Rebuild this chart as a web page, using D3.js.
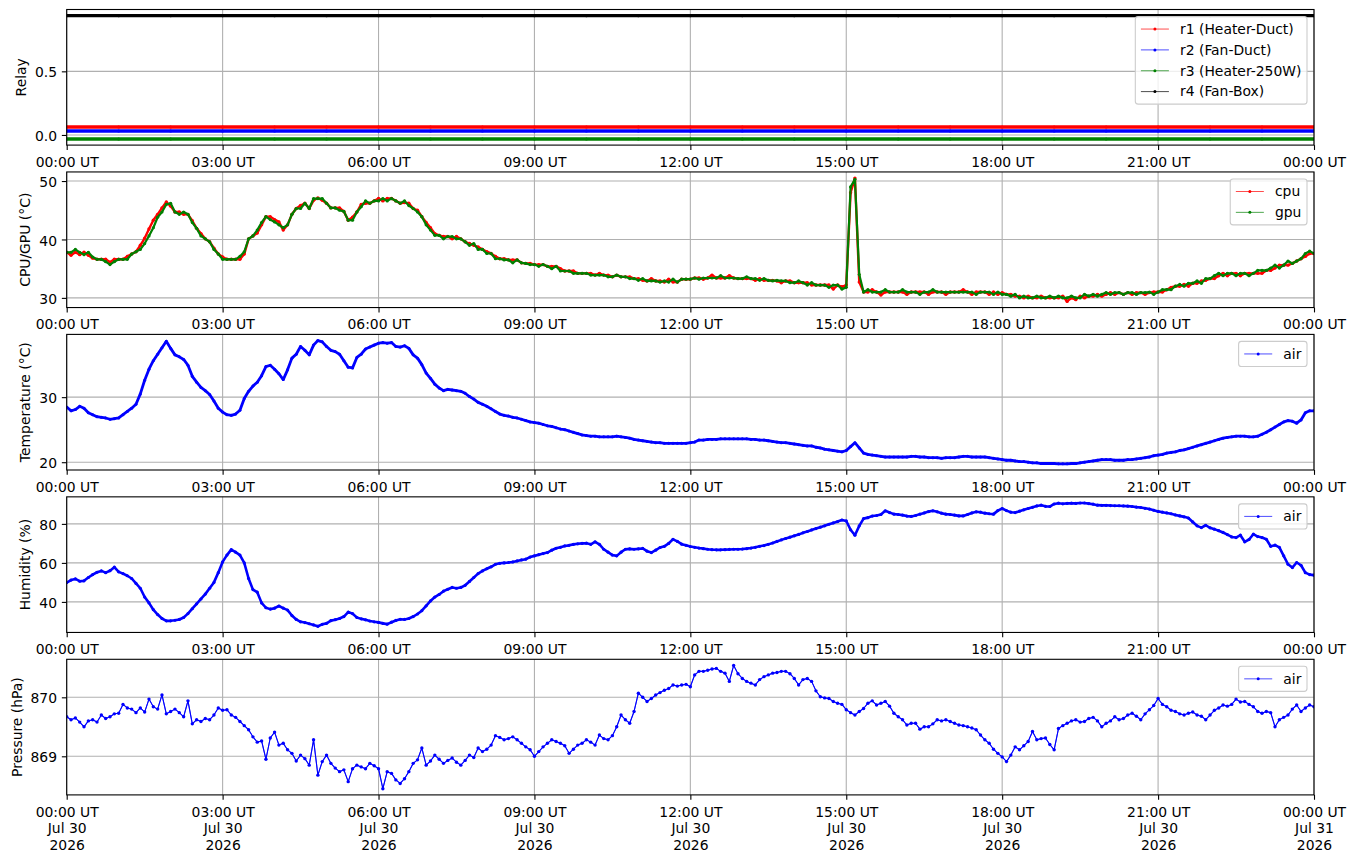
<!DOCTYPE html>
<html>
<head>
<meta charset="utf-8">
<script src="https://cdn.jsdelivr.net/npm/d3@7"></script>
<style>
  body { margin: 0; background: #fff; }
  svg { display: block; font-family: "DejaVu Sans", sans-serif; }
</style>
</head>
<body>
<svg id="chart" width="1355" height="861"></svg>
<script>
// sampling of the logged data
const startTime = "2026-07-30T00:00:00Z";
const endTime = "2026-07-31T00:00:00Z";
const stepMinutes = 5;        // sensor series
const relayStepMinutes = 60;  // relay states (constant all day)

// relay state, offset so the four lines do not overlap
const relay1 = [0.0625,0.0625,0.0625,0.0625,0.0625,0.0625,0.0625,0.0625,0.0625,0.0625,0.0625,0.0625,0.0625,
  0.0625,0.0625,0.0625,0.0625,0.0625,0.0625,0.0625,0.0625,0.0625,0.0625,0.0625,0.0625];
const relay2 = [0.03125,0.03125,0.03125,0.03125,0.03125,0.03125,0.03125,0.03125,0.03125,0.03125,0.03125,0.03125,0.03125,
  0.03125,0.03125,0.03125,0.03125,0.03125,0.03125,0.03125,0.03125,0.03125,0.03125,0.03125,0.03125];
const relay3 = [-0.03125,-0.03125,-0.03125,-0.03125,-0.03125,-0.03125,-0.03125,-0.03125,-0.03125,-0.03125,-0.03125,-0.03125,-0.03125,
  -0.03125,-0.03125,-0.03125,-0.03125,-0.03125,-0.03125,-0.03125,-0.03125,-0.03125,-0.03125,-0.03125,-0.03125];
const relay4 = [0.9375,0.9375,0.9375,0.9375,0.9375,0.9375,0.9375,0.9375,0.9375,0.9375,0.9375,0.9375,0.9375,
  0.9375,0.9375,0.9375,0.9375,0.9375,0.9375,0.9375,0.9375,0.9375,0.9375,0.9375,0.9375];

// CPU / GPU temperature (°C), one row per hour
const cpuTemp = [
  37.8,37.3,37.8,37.4,37.8,37.3,36.8,36.6,36.6,36.6,36.1,36.6,
  36.6,36.6,37.1,37.5,37.9,39.0,40.2,41.8,43.3,44.3,45.4,46.4,
  45.7,44.7,44.7,44.3,44.3,43.2,41.9,41.0,40.1,39.6,38.5,37.5,
  37.0,36.6,36.6,36.6,36.6,37.5,40.1,40.6,41.1,42.5,43.9,43.9,
  43.4,43.0,41.6,42.5,44.3,45.3,45.8,46.2,45.3,46.7,47.1,46.7,
  46.2,45.4,45.4,45.4,44.8,43.3,43.8,44.7,46.0,46.2,46.2,46.6,
  47.0,46.6,47.0,47.0,46.6,46.2,46.3,46.2,45.3,45.0,43.9,42.9,
  42.0,41.0,40.7,40.5,40.5,40.1,40.5,40.1,39.6,39.3,39.0,38.7,
  38.3,37.9,37.6,37.1,36.7,36.7,36.5,36.5,36.5,36.0,35.9,35.9,
  35.7,35.7,35.7,35.4,35.4,35.4,35.0,34.6,34.6,34.6,34.2,34.2,
  34.2,34.2,33.9,34.2,33.9,33.9,33.6,33.9,33.6,33.6,33.6,33.3,
  33.3,33.0,32.9,33.3,32.9,32.9,32.7,33.2,32.7,32.7,33.2,33.2,
  33.2,33.4,33.4,33.2,33.4,33.9,33.4,33.4,33.4,33.8,33.4,33.3,
  33.3,33.3,33.3,33.0,33.3,33.0,33.0,33.0,32.9,32.6,32.9,32.9,
  32.6,32.6,32.6,32.6,32.2,32.2,32.2,32.2,32.2,31.5,32.2,31.9,
  32.2,48.0,50.5,32.7,31.0,31.0,31.4,31.0,30.5,31.0,31.0,31.0,
  31.0,31.0,30.6,31.0,31.0,31.0,31.0,30.6,31.0,31.0,31.0,30.6,
  31.0,31.0,31.0,31.4,31.0,30.6,31.0,31.0,31.0,30.6,31.0,30.6,
  30.9,30.6,30.6,30.3,30.3,30.0,30.3,30.0,30.0,30.3,30.0,30.0,
  30.0,30.0,30.3,29.4,30.0,29.7,30.3,30.0,30.3,30.3,30.6,30.3,
  30.6,30.9,30.6,30.9,30.6,30.9,30.6,30.9,30.9,30.6,30.9,31.0,
  31.0,31.0,31.4,31.8,32.0,32.0,32.3,32.0,32.5,32.5,32.9,33.0,
  33.3,33.3,33.8,34.2,33.8,34.2,34.2,33.8,34.2,34.2,34.2,34.2,
  34.2,34.7,34.7,35.1,35.6,35.6,35.6,35.9,36.3,36.7,37.1,37.6,
  37.6];
const gpuTemp = [
  37.8,37.8,38.3,37.8,37.4,37.8,37.0,36.6,36.6,36.2,35.7,36.2,
  36.6,36.6,36.6,37.5,37.9,38.3,39.3,40.6,42.0,43.8,44.7,46.0,
  46.2,44.7,44.3,44.7,44.3,42.9,41.9,40.6,40.1,39.6,38.3,37.5,
  36.6,36.6,36.6,36.6,37.1,37.9,40.1,40.6,41.6,42.9,43.9,43.4,
  43.0,42.5,42.0,42.5,44.3,45.3,45.3,46.2,45.3,47.0,47.0,47.0,
  46.2,45.4,45.4,45.0,44.8,43.3,43.3,44.7,45.6,46.6,46.2,46.6,
  46.6,47.0,46.6,47.0,46.6,46.2,46.6,45.8,45.3,44.7,43.9,42.5,
  41.6,40.7,40.7,40.1,40.5,40.5,40.1,40.1,39.6,39.0,39.3,38.3,
  38.3,37.6,37.6,36.7,36.7,36.5,36.5,36.0,36.5,36.0,35.9,35.7,
  35.7,35.4,35.7,35.4,35.0,35.4,34.6,34.6,34.6,34.2,34.2,34.2,
  34.2,33.9,33.9,33.9,33.9,33.6,33.6,33.9,33.6,33.6,33.3,33.3,
  33.0,33.3,32.9,32.9,32.9,32.7,32.9,32.7,33.2,32.7,33.2,33.2,
  33.2,33.4,33.2,33.4,33.4,33.4,33.4,33.8,33.4,33.4,33.4,33.3,
  33.3,33.6,33.3,33.3,33.0,33.3,33.0,32.9,33.0,32.9,32.9,32.6,
  32.6,32.9,32.6,32.2,32.6,32.2,32.2,32.2,31.8,32.2,32.2,31.5,
  31.8,49.0,50.3,34.0,31.0,31.4,31.0,31.0,31.0,31.4,31.0,31.0,
  31.0,31.4,31.0,31.0,31.0,30.6,31.0,31.0,31.4,31.0,31.0,31.0,
  31.0,31.0,31.0,31.0,31.0,31.0,30.6,31.0,31.0,31.0,30.6,31.0,
  30.6,30.6,30.3,30.6,30.0,30.3,30.0,30.0,30.3,30.0,30.0,30.3,
  30.0,30.3,30.0,30.0,30.3,30.0,30.0,30.6,30.3,30.6,30.3,30.6,
  30.9,30.6,30.9,30.9,30.6,30.9,30.9,30.6,30.9,30.9,31.0,30.6,
  31.0,31.4,31.4,31.4,32.0,32.3,32.0,32.5,32.5,32.9,32.5,33.3,
  33.3,33.8,34.2,33.8,34.2,34.2,33.8,34.2,34.2,33.8,34.2,34.7,
  34.7,34.7,35.1,35.6,35.1,35.6,36.3,35.9,36.3,36.7,37.6,38.0,
  37.6];

// air temperature (°C)
const airTemp = [
  28.5,27.9,28.1,28.6,28.3,27.6,27.3,27.0,26.9,26.8,26.6,26.7,
  26.8,27.3,27.8,28.3,28.9,30.5,32.6,34.3,35.6,36.6,37.6,38.6,
  37.5,36.5,36.2,35.8,34.9,33.2,32.3,31.5,31.0,30.4,29.4,28.3,
  27.7,27.3,27.2,27.4,28.0,29.8,30.9,31.7,32.3,33.3,34.7,34.9,
  34.3,33.6,32.7,34.2,36.0,36.6,37.8,37.2,36.5,38.0,38.7,38.5,
  37.8,37.2,37.0,36.6,35.6,34.6,34.5,36.1,36.6,37.4,37.7,38.0,
  38.3,38.4,38.3,38.4,37.8,37.7,37.9,37.5,36.5,36.0,35.0,33.7,
  32.9,32.0,31.4,31.0,31.2,31.1,31.0,30.9,30.6,30.1,29.7,29.2,
  28.9,28.6,28.2,27.8,27.4,27.2,27.1,26.9,26.8,26.6,26.4,26.2,
  26.1,26.0,25.8,25.6,25.5,25.3,25.1,25.0,24.8,24.6,24.4,24.2,
  24.1,24.0,24.0,23.9,23.9,23.9,23.9,24.0,23.9,23.8,23.7,23.5,
  23.4,23.3,23.2,23.1,23.0,23.0,22.9,22.9,22.9,22.9,22.9,22.9,
  23.0,23.1,23.4,23.4,23.5,23.5,23.5,23.6,23.6,23.6,23.6,23.6,
  23.6,23.6,23.5,23.5,23.4,23.4,23.3,23.2,23.1,23.0,23.0,22.9,
  22.8,22.7,22.6,22.5,22.5,22.3,22.2,22.0,21.9,21.8,21.7,21.6,
  21.8,22.4,23.0,22.2,21.4,21.2,21.1,21.0,20.9,20.8,20.8,20.8,
  20.8,20.8,20.8,20.9,20.9,20.8,20.8,20.7,20.7,20.7,20.6,20.7,
  20.7,20.7,20.8,20.9,20.9,20.8,20.8,20.8,20.8,20.7,20.6,20.5,
  20.4,20.3,20.3,20.2,20.1,20.1,20.0,19.9,19.9,19.8,19.8,19.8,
  19.8,19.75,19.75,19.75,19.8,19.8,19.9,20.0,20.1,20.2,20.3,20.4,
  20.4,20.4,20.3,20.3,20.3,20.4,20.4,20.5,20.6,20.7,20.8,21.0,
  21.1,21.2,21.4,21.5,21.6,21.8,21.9,22.1,22.3,22.5,22.7,22.9,
  23.1,23.3,23.5,23.7,23.8,23.9,24.0,24.0,24.0,23.9,23.9,24.0,
  24.3,24.6,25.0,25.4,25.8,26.2,26.4,26.3,26.0,26.5,27.6,27.9,
  27.9];

// relative humidity (%)
const airHumidity = [
  49.9,51.2,51.8,50.6,50.8,52.5,54.0,55.2,55.9,55.0,56.0,57.8,
  55.4,54.5,53.4,52.0,49.5,47.0,42.5,39.5,36.0,33.5,31.5,30.3,
  30.3,30.6,31.0,32.0,34.0,36.5,39.0,41.5,44.0,47.0,50.0,55.0,
  60.5,64.0,66.8,65.5,64.0,60.0,52.0,46.3,45.0,39.5,37.0,36.3,
  36.8,37.9,36.8,35.8,33.0,31.0,29.8,29.4,28.8,28.2,27.5,28.5,
  29.0,30.4,30.9,31.5,32.5,34.8,34.0,32.0,31.3,30.8,30.2,29.8,
  29.5,29.0,28.6,29.6,30.5,31.1,31.0,31.5,32.5,33.8,35.5,38.0,
  40.5,42.5,43.8,45.5,46.5,47.4,47.0,47.4,48.5,50.5,52.5,54.5,
  55.9,57.0,58.0,59.3,59.8,60.0,60.2,60.5,61.0,61.5,61.9,63.0,
  63.6,64.2,64.8,65.3,66.5,67.5,68.0,68.7,69.0,69.5,69.8,70.0,
  70.1,69.5,70.8,69.5,67.0,65.5,64.0,63.6,65.5,67.0,67.2,67.0,
  67.2,67.4,66.0,65.3,66.5,67.9,68.5,70.0,72.1,71.0,69.6,69.0,
  68.4,68.0,67.6,67.3,67.0,66.8,66.7,66.7,66.8,66.9,67.0,67.0,
  67.1,67.3,67.6,68.0,68.5,68.9,69.5,70.2,71.0,71.8,72.5,73.2,
  73.9,74.6,75.4,76.1,76.9,77.6,78.3,79.0,79.8,80.5,81.2,82.0,
  81.5,77.0,74.2,79.0,82.7,83.2,84.0,84.3,84.8,86.7,85.8,85.0,
  84.8,84.5,84.0,83.8,84.3,85.0,85.6,86.3,86.7,86.2,85.5,85.0,
  84.8,84.5,84.1,84.1,84.8,85.6,86.2,86.0,85.5,85.2,85.0,86.8,
  87.9,86.8,86.0,85.8,86.5,87.2,87.9,88.5,89.2,89.6,89.0,88.9,
  90.2,90.6,90.3,90.5,90.6,90.5,90.7,90.7,90.4,90.1,89.6,89.5,
  89.5,89.4,89.3,89.3,89.2,89.1,88.9,88.6,88.4,88.0,87.6,87.0,
  86.4,86.0,85.6,85.2,84.6,84.1,83.6,83.0,81.0,79.0,78.1,79.3,
  78.0,77.3,76.5,75.6,74.5,73.3,73.0,74.2,70.8,72.0,74.7,73.5,
  73.0,72.1,68.5,69.1,68.0,63.6,59.3,57.6,60.2,58.8,55.0,54.0,
  53.7];

// air pressure (hPa)
const airPressure = [
  869.67,869.62,869.65,869.58,869.50,869.60,869.62,869.58,869.70,869.64,869.67,869.72,
  869.73,869.88,869.82,869.80,869.74,869.82,869.75,869.97,869.84,869.80,870.04,869.72,
  869.76,869.80,869.74,869.67,869.94,869.55,869.62,869.59,869.64,869.62,869.70,869.82,
  869.78,869.79,869.70,869.66,869.59,869.52,869.45,869.33,869.24,869.26,868.95,869.31,
  869.41,869.19,869.22,869.11,869.05,868.92,869.02,868.96,868.85,869.28,868.68,868.91,
  869.02,868.88,868.80,868.74,868.77,868.57,868.79,868.85,868.82,868.79,868.88,868.84,
  868.79,868.45,868.74,868.71,868.60,868.54,868.62,868.74,868.88,868.94,869.14,868.85,
  868.92,869.02,868.95,868.88,868.93,868.97,868.90,868.85,868.93,869.02,868.98,869.14,
  869.08,869.12,869.19,869.35,869.32,869.28,869.30,869.33,869.28,869.22,869.16,869.11,
  869.00,869.08,869.16,869.22,869.28,869.25,869.22,869.18,869.05,869.12,869.19,869.22,
  869.28,869.24,869.19,869.36,869.30,869.28,869.35,869.50,869.70,869.62,869.56,869.76,
  870.07,870.00,869.93,869.98,870.04,870.08,870.12,870.15,870.21,870.19,870.21,870.22,
  870.18,870.38,870.44,870.44,870.46,870.48,870.49,870.44,870.41,870.27,870.54,870.40,
  870.32,870.27,870.24,870.21,870.30,870.35,870.38,870.41,870.42,870.44,870.44,870.40,
  870.32,870.21,870.30,870.32,870.27,870.11,870.01,869.99,869.98,869.93,869.90,869.88,
  869.79,869.74,869.70,869.76,869.81,869.90,869.94,869.87,869.90,869.93,869.85,869.73,
  869.67,869.62,869.53,869.56,869.56,869.46,869.50,869.50,869.55,869.62,869.60,869.62,
  869.59,869.56,869.53,869.52,869.50,869.48,869.45,869.36,869.28,869.22,869.12,869.05,
  868.99,868.91,869.02,869.16,869.11,869.18,869.25,869.42,869.28,869.30,869.31,869.20,
  869.11,869.47,869.52,869.56,869.60,869.62,869.58,869.59,869.64,869.66,869.60,869.50,
  869.56,869.60,869.67,869.62,869.64,869.70,869.73,869.68,869.62,869.72,869.79,869.86,
  869.98,869.88,869.84,869.78,869.76,869.72,869.70,869.73,869.75,869.70,869.68,869.62,
  869.70,869.78,869.82,869.87,869.85,869.88,869.97,869.92,869.93,869.88,869.84,869.76,
  869.73,869.76,869.74,869.50,869.62,869.66,869.70,869.80,869.87,869.76,869.82,869.87,
  869.84];

const yLabels = ["Relay", "CPU/GPU (°C)", "Temperature (°C)", "Humidity (%)", "Pressure (hPa)"];
const yTickValues = [[0, 0.5], [30, 40, 50], [20, 30], [40, 60, 80], [869, 870]];

// ---------------------------------------------------------------------------
const t0 = new Date(startTime), t1 = new Date(endTime);
const sampleTimes = n => (step) => d3.range(n).map(i => new Date(+t0 + i * step * 60000));
const times = sampleTimes(airTemp.length)(stepMinutes);
const relayTimes = sampleTimes(relay1.length)(relayStepMinutes);

// trail = width of the band the dense 1-min samples form in the original
const panels = [
  { fmt: d3.format(".1f"), series: [
    { label: "r1 (Heater-Duct)", t: relayTimes, v: relay1, color: "#ff0000", trail: 3.4, r: 1.5 },
    { label: "r2 (Fan-Duct)", t: relayTimes, v: relay2, color: "#0000ff", trail: 3.4, r: 1.5 },
    { label: "r3 (Heater-250W)", t: relayTimes, v: relay3, color: "#008000", trail: 3.4, r: 1.5 },
    { label: "r4 (Fan-Box)", t: relayTimes, v: relay4, color: "#000000", trail: 3.4, r: 1.5 }]},
  { fmt: d3.format("d"), series: [
    { label: "cpu", t: times, v: cpuTemp, color: "#ff0000", trail: 2.4, r: 1.7 },
    { label: "gpu", t: times, v: gpuTemp, color: "#008000", trail: 2.2, r: 1.6 }]},
  { fmt: d3.format("d"), series: [
    { label: "air", t: times, v: airTemp, color: "#0000ff", trail: 2.8, r: 1.5 }]},
  { fmt: d3.format("d"), series: [
    { label: "air", t: times, v: airHumidity, color: "#0000ff", trail: 2.6, r: 1.6 }]},
  { fmt: d3.format("d"), series: [
    { label: "air", t: times, v: airPressure, color: "#0000ff", trail: 1.1, r: 1.7 }]}
];

const fs = 13.9;            // 10pt at 100 dpi
const tickLen = 4.86, tickPad = 4.86, labelPad = 5.56;
const left = 66.7, right = 1314;
const panelTop0 = 9.5, panelStep = 162.45, panelH = 135.6;

const svg = d3.select("#chart");
const x = d3.scaleUtc().domain([t0, t1]).range([left, right]);
const xTicks = x.ticks(d3.utcHour.every(3));
const fmtHour = d3.utcFormat("%H:%M UT"), fmtDay = d3.utcFormat("%b %d"), fmtYear = d3.utcFormat("%Y");

panels.forEach((p, i) => {
  const top = panelTop0 + i * panelStep, bottom = top + panelH;
  const [lo, hi] = d3.extent(p.series.flatMap(s => s.v));
  const pad = (hi - lo) * 0.05;
  const y = d3.scaleLinear().domain([lo - pad, hi + pad]).range([bottom, top]);
  const g = svg.append("g");

  svg.append("clipPath").attr("id", "clip" + i)
    .append("rect").attr("x", left).attr("y", top).attr("width", right - left).attr("height", panelH);

  // grid
  const grid = g.append("g").attr("stroke", "#b0b0b0").attr("stroke-width", 1.1);
  grid.selectAll(".gx").data(xTicks).join("line")
    .attr("x1", d => x(d)).attr("x2", d => x(d)).attr("y1", top).attr("y2", bottom);
  grid.selectAll(".gy").data(yTickValues[i]).join("line")
    .attr("x1", left).attr("x2", right).attr("y1", d => y(d)).attr("y2", d => y(d));

  // data
  const plot = g.append("g").attr("clip-path", `url(#clip${i})`);
  p.series.forEach(s => {
    const pts = s.v.map((v, k) => [x(s.t[k]), y(v)]);
    const line = d3.line();
    if (s.trail) {
      plot.append("path").attr("d", line(pts)).attr("fill", "none")
        .attr("stroke", s.color).attr("stroke-width", s.trail).attr("stroke-linejoin", "round");
    }
    plot.append("path").attr("d", line(pts)).attr("fill", "none")
      .attr("stroke", s.color).attr("stroke-width", 0.7);
    plot.append("g").selectAll("circle").data(pts).join("circle")
      .attr("cx", d => d[0]).attr("cy", d => d[1]).attr("r", s.r).attr("fill", s.color);
  });

  // frame
  g.append("rect").attr("x", left).attr("y", top).attr("width", right - left).attr("height", panelH)
    .attr("fill", "none").attr("stroke", "#000").attr("stroke-width", 1.1);

  // y axis
  const ya = g.append("g").attr("transform", `translate(${left},0)`)
    .call(d3.axisLeft(y).tickValues(yTickValues[i]).tickFormat(p.fmt).tickSize(tickLen).tickPadding(tickPad));
  ya.select(".domain").remove();
  ya.selectAll("line").attr("stroke-width", 1.1);
  ya.selectAll("text").attr("font-size", fs).attr("font-family", "DejaVu Sans").attr("fill", "#000").attr("dy", "0.4em");
  let maxW = 0;
  ya.selectAll("text").each(function () { maxW = Math.max(maxW, this.getComputedTextLength()); });
  const lx = left - tickLen - tickPad - maxW - labelPad - 0.236 * fs;
  g.append("text").attr("transform", `translate(${lx},${(top + bottom) / 2}) rotate(-90)`)
    .attr("text-anchor", "middle").attr("font-size", fs).text(yLabels[i]);

  // x axis
  const xa = g.append("g").attr("transform", `translate(0,${bottom})`)
    .call(d3.axisBottom(x).tickValues(xTicks).tickSize(tickLen).tickFormat(""));
  xa.select(".domain").remove();
  xa.selectAll("line").attr("stroke-width", 1.1);
  const last = i === panels.length - 1;
  xa.selectAll(".tick").each(function (d) {
    const t = d3.select(this).select("text").attr("dy", null).attr("y", 21.7)
      .attr("font-size", fs).attr("font-family", "DejaVu Sans").attr("fill", "#000");
    const lines = last ? [fmtHour(d), fmtDay(d), fmtYear(d)] : [fmtHour(d)];
    lines.forEach((s, k) => t.append("tspan").attr("x", 0).attr("y", 21.7 + k * 16.7).text(s));
  });

  // legend
  const lg = g.append("g");
  const entryStep = 20.85, bp = 5.6, handle = 28, hpad = 11.1;
  const items = lg.selectAll(".item").data(p.series).join("g");
  items.append("text").attr("font-size", fs).attr("y", (d, k) => k * entryStep + 4.8).text(d => d.label);
  let tw = 0;
  items.select("text").each(function () { tw = Math.max(tw, this.getComputedTextLength()); });
  const boxW = bp * 2 + handle + hpad + tw;
  const boxH = bp * 2 + p.series.length * fs + (p.series.length - 1) * fs * 0.5;
  const bx = right - 7 - boxW, by = top + 7;
  lg.insert("rect", ":first-child").attr("x", bx).attr("y", by).attr("width", boxW).attr("height", boxH)
    .attr("rx", 2.8).attr("fill", "#fff").attr("fill-opacity", 0.8).attr("stroke", "#cccccc").attr("stroke-width", 1.1);
  items.attr("transform", `translate(${bx + bp},${by + bp + fs / 2})`);
  items.append("line").attr("x1", 0).attr("x2", handle)
    .attr("y1", (d, k) => k * entryStep).attr("y2", (d, k) => k * entryStep)
    .attr("stroke", d => d.color).attr("stroke-width", 0.7);
  items.append("circle").attr("cx", handle / 2).attr("cy", (d, k) => k * entryStep).attr("r", 1.5).attr("fill", d => d.color);
  items.select("text").attr("x", handle + hpad);
});
</script>
</body>
</html>
